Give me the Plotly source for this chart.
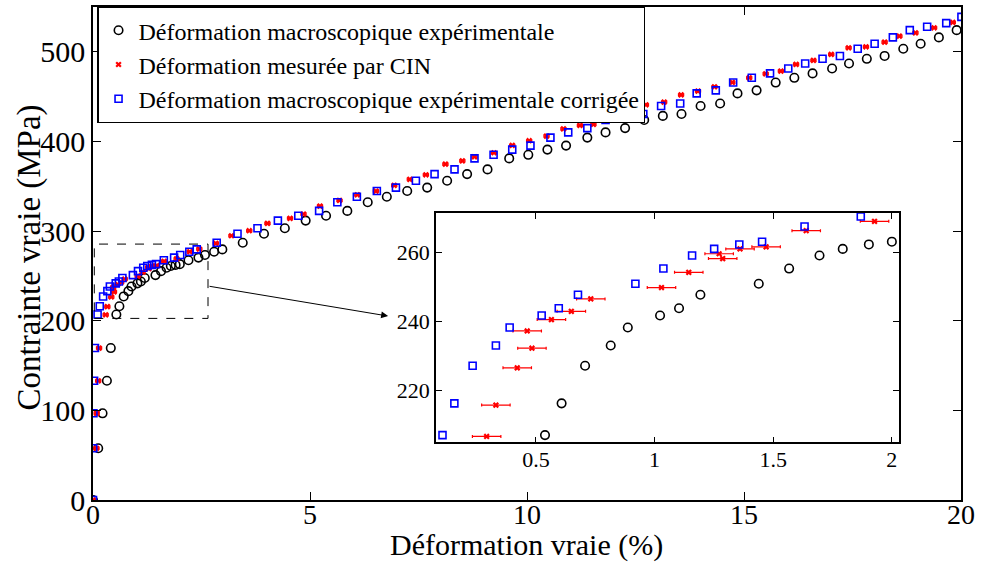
import plotly.graph_objects as go

# ---------------- data ----------------
# Shared stress levels (MPa) for experimental macroscopic and corrected strains
stress = [0, 57.7, 96.7, 133.0, 169.5, 207.0, 216.2, 227.1, 233.0, 238.2, 241.7, 243.8,
          247.7, 250.9, 255.3, 259.1, 261.0, 262.3, 263.1, 267.5, 270.4, 273.3, 277.0,
          279.6, 287.0, 297.0, 303.2, 311.7, 317.1, 322.5, 332.2, 338.3, 344.7, 348.5,
          356.2, 363.6, 368.8, 381.1, 385.1, 390.9, 395.4, 404.3, 410.1, 414.9, 424.0,
          428.5, 430.6, 439.6, 442.4, 453.6, 457.0, 465.7, 471.0, 475.9, 481.4, 487.0,
          492.2, 495.4, 503.4, 509.0, 516.1, 524.2, 528.0, 532.0, 539.0]

# Experimental macroscopic strain (%) - black circles
strain_macro = [0.0, 0.12, 0.22, 0.32, 0.41, 0.538, 0.608, 0.707, 0.815, 0.887, 1.023, 1.103,
                1.193, 1.439, 1.567, 1.695, 1.793, 1.903, 2.0, 2.20, 2.43, 2.58, 2.79,
                2.98, 3.45, 3.94, 4.42, 4.90, 5.37, 5.86, 6.33, 6.77, 7.24, 7.70,
                8.16, 8.62, 9.09, 9.59, 10.03, 10.47, 10.90, 11.39, 11.81, 12.26, 12.70,
                13.13, 13.56, 14.00, 14.45, 14.85, 15.29, 15.73, 16.16, 16.58, 17.03, 17.42,
                17.83, 18.24, 18.67, 19.07, 19.49, 19.90, 20.3, 20.7, 21.1]

# Corrected experimental macroscopic strain (%) - blue squares
strain_corr = [0.0, 0.005, 0.01, 0.025, 0.045, 0.106, 0.156, 0.233, 0.331, 0.389, 0.524, 0.596,
               0.677, 0.919, 1.037, 1.158, 1.251, 1.357, 1.453, 1.632, 1.869, 2.01, 2.22,
               2.39, 2.85, 3.33, 3.79, 4.26, 4.73, 5.21, 5.63, 6.08, 6.54, 6.98,
               7.44, 7.87, 8.33, 8.79, 9.23, 9.66, 10.08, 10.54, 10.95, 11.39, 11.81,
               12.24, 12.68, 13.09, 13.53, 13.91, 14.35, 14.75, 15.18, 15.60, 16.02, 16.41,
               16.81, 17.21, 17.62, 18.01, 18.43, 18.82, 19.22, 19.66, 20.01]

# Strain measured by DIC (CIN) - red crosses with error bars
strain_cin = [0.0, 0.08, 0.085, 0.12, 0.14, 0.292, 0.331, 0.421, 0.483, 0.463, 0.565, 0.649,
              0.731, 1.029, 1.144, 1.272, 1.287, 1.360, 1.470, 1.639, 1.927, 2.23, 2.45,
              2.83, 3.19, 3.60, 4.02, 4.54, 4.85, 5.23, 5.68, 6.09, 6.52, 6.94,
              7.30, 7.67, 8.12, 8.51, 8.79, 9.24, 9.66, 10.05, 10.45, 10.84, 11.22,
              11.53, 12.00, 12.39, 12.74, 13.16, 13.55, 13.94, 14.32, 14.73, 15.12, 15.50,
              15.85, 16.20, 16.60, 17.01, 17.41, 17.81, 18.24, 18.58, 18.95, 19.38, 19.81]
stress_cin = [0, 57.7, 96.7, 133.0, 169.5, 206.6, 215.7, 226.5, 232.2, 237.2, 240.5, 242.9,
              246.5, 249.8, 254.2, 259.6, 258.2, 261.0, 261.6, 266.3, 269.0, 277.0, 280.0,
              286.3, 294.8, 300.4, 308.6, 314.2, 319.0, 327.9, 334.2, 340.5, 344.6, 351.0,
              357.7, 362.8, 374.7, 378.4, 382.9, 387.4, 395.6, 400.8, 406.0, 414.1, 417.9,
              419.0, 427.9, 430.2, 440.9, 443.9, 452.0, 456.2, 461.0, 465.9, 471.0, 475.5,
              478.5, 486.0, 490.4, 497.1, 504.5, 505.6, 510.8, 517.5, 521.2, 526.8, 532.8]
cin_err = 0.06  # +/- strain uncertainty (%)

names = ["Déformation macroscopique expérimentale",
         "Déformation mesurée par CIN",
         "Déformation macroscopique expérimentale corrigée"]
x_title = "Déformation vraie (%)"
y_title = "Contrainte vraie (MPa)"

x_ticks = [0, 5, 10, 15, 20]
y_ticks = [0, 100, 200, 300, 400, 500]
inset_x_ticks = [0.5, 1, 1.5, 2]
inset_x_labels = ["0.5", "1", "1.5", "2"]
inset_y_ticks = [220, 240, 260]

FONT = "Liberation Serif, Times New Roman, serif"

fig = go.Figure()

def add_series(xa, ya, show):
    fig.add_trace(go.Scatter(
        x=strain_macro, y=stress, mode="markers", name=names[0], showlegend=show,
        xaxis=xa, yaxis=ya,
        marker=dict(symbol="circle-open", size=8.5, color="black", line=dict(width=1.6, color="black"))))
    fig.add_trace(go.Scatter(
        x=strain_cin, y=stress_cin, mode="markers", name=names[1], showlegend=show,
        xaxis=xa, yaxis=ya,
        error_x=dict(type="constant", value=cin_err, color="red", thickness=1.2, width=1.5),
        marker=dict(symbol="x", size=5.5, color="red")))
    fig.add_trace(go.Scatter(
        x=strain_corr, y=stress, mode="markers", name=names[2], showlegend=show,
        xaxis=xa, yaxis=ya,
        marker=dict(symbol="square-open", size=7, color="blue", line=dict(width=1.6, color="blue"))))

add_series("x", "y", True)
add_series("x2", "y2", False)

axis_common = dict(showgrid=False, zeroline=False, ticks="inside", mirror="allticks",
                   showline=True, linecolor="black", linewidth=1.5, tickcolor="black",
                   tickfont=dict(family=FONT, size=30, color="black"))

fig.update_layout(
    width=981, height=562,
    margin=dict(l=93, r=20, t=7, b=62, autoexpand=False),
    paper_bgcolor="white", plot_bgcolor="white",
    font=dict(family=FONT, color="black"),
    xaxis=dict(axis_common, range=[0, 20], tickvals=x_ticks, ticklen=8, domain=[0, 1],
               ticklabelstandoff=-11, tickfont=dict(family=FONT, size=28, color="black")),
    yaxis=dict(axis_common, range=[0, 550], tickvals=y_ticks, ticklen=8, domain=[0, 1]),
    xaxis2=dict(axis_common, range=[0.078, 2.028], tickvals=inset_x_ticks, ticktext=inset_x_labels,
                ticklen=6, domain=[0.395, 0.928], anchor="y2", ticklabelstandoff=-3,
                tickfont=dict(family=FONT, size=22, color="black")),
    yaxis2=dict(axis_common, range=[204.9, 271.4], tickvals=inset_y_ticks, ticklen=6,
                domain=[0.117, 0.582], anchor="x2",
                tickfont=dict(family=FONT, size=22, color="black")),
    legend=dict(x=0.005, y=1.0, xanchor="left", yanchor="top",
                bgcolor="white", bordercolor="black", borderwidth=1.2,
                font=dict(family=FONT, size=24, color="black"),
                itemwidth=30, tracegroupgap=0),
    showlegend=True,
)

# axis titles
fig.add_annotation(text=x_title, xref="paper", yref="paper", x=0.4994, y=-0.0913,
                   xanchor="center", yanchor="middle", showarrow=False,
                   font=dict(family=FONT, size=30, color="black"))
fig.add_annotation(text=y_title, xref="paper", yref="paper", x=-0.0737, y=0.492,
                   xanchor="center", yanchor="middle", showarrow=False, textangle=-90,
                   font=dict(family=FONT, size=33, color="black"))

# zoom window rectangle on main plot
fig.add_shape(type="rect", xref="x", yref="y", x0=0.03, x1=2.65, y0=202.6, y1=285.5,
              line=dict(color="black", width=1, dash="dash"))
# arrow from zoom window to inset
fig.add_annotation(x=6.8, y=205.2, ax=2.65, ay=238.7, xref="x", yref="y", axref="x", ayref="y",
                   text="", showarrow=True, arrowhead=2, arrowsize=1.4, arrowwidth=1,
                   arrowcolor="black")

fig.write_html("out.html", config={"displayModeBar": False},
               post_script="document.body.style.margin='0';")
